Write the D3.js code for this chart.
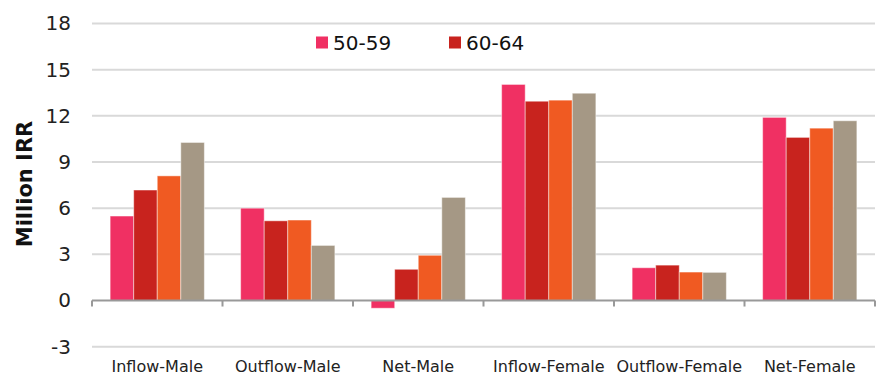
<!DOCTYPE html>
<html>
<head>
<meta charset="utf-8">
<script src="https://cdn.jsdelivr.net/npm/d3@7"></script>
<style>
  html, body { margin: 0; padding: 0; background: #fff; }
  svg { display: block; font-family: "DejaVu Sans", Verdana, sans-serif; }
</style>
</head>
<body>
<svg id="chart" width="887" height="376"></svg>
<script>
const categories = ["Inflow-Male", "Outflow-Male", "Net-Male", "Inflow-Female", "Outflow-Female", "Net-Female"];
const seriesNames = ["50-59", "60-64", "65-69", "70+"];
const values5059 = [5.49, 6.0, -0.5, 14.04, 2.13, 11.9];
const values6064 = [7.18, 5.18, 2.03, 12.95, 2.3, 10.6];
const values6569 = [8.1, 5.23, 2.94, 13.02, 1.85, 11.2];
const values70 = [10.27, 3.58, 6.7, 13.47, 1.83, 11.68];
const yTicks = [-3, 0, 3, 6, 9, 12, 15, 18];
const legendNames = ["50-59", "60-64"];
const colors = ["#f03063", "#c8231e", "#f05a22", "#a59885"];

const seriesValues = [values5059, values6064, values6569, values70];

const svg = d3.select("#chart");
const margin = { left: 92, right: 12, top: 23.5, bottom: 29.3 };
const W = 887, H = 376;

const y = d3.scaleLinear().domain([-3, 18]).range([H - margin.bottom, margin.top]);
const x0 = d3.scaleBand().domain(categories).range([margin.left, W - margin.right])
  .paddingInner(0.278).paddingOuter(0.139);
const x1 = d3.scaleBand().domain(seriesNames).range([0, x0.bandwidth()]);

// gridlines
svg.append("g").selectAll("line").data(yTicks.filter(d => d !== 0)).join("line")
  .attr("x1", margin.left).attr("x2", W - margin.right)
  .attr("y1", d => y(d)).attr("y2", d => y(d))
  .attr("stroke", "#d9d9d9").attr("stroke-width", 2);

// y axis labels
const yAxis = d3.axisLeft(y).tickValues(yTicks).tickSize(0).tickPadding(21).tickFormat(d => String(d));
const ya = svg.append("g").attr("transform", `translate(${margin.left},0)`).call(yAxis);
ya.select(".domain").remove();
ya.selectAll("text").attr("font-size", 20).attr("fill", "#222").attr("font-family", "DejaVu Sans");

// bars
const groups = svg.append("g").selectAll("g").data(categories).join("g")
  .attr("transform", d => `translate(${x0(d)},0)`);
groups.selectAll("rect").data((c, i) => seriesNames.map((s, j) => ({ s, j, v: seriesValues[j][i] })))
  .join("rect")
  .attr("x", d => x1(d.s))
  .attr("width", x1.bandwidth())
  .attr("y", d => Math.min(y(d.v), y(0)))
  .attr("height", d => Math.abs(y(d.v) - y(0)))
  .attr("fill", d => colors[d.j])
  .attr("stroke", "rgba(255,255,255,0.45)")
  .attr("stroke-width", 1);

// zero axis with category ticks
const xAxis = d3.axisBottom(x0).tickSize(0).tickFormat(() => "");
const xa = svg.append("g").attr("transform", `translate(0,${y(0)})`).call(xAxis);
xa.select(".domain").attr("stroke", "#999").attr("stroke-width", 2)
  .attr("d", `M${margin.left},0H${W - margin.right}`);
const step = x0.step();
const bounds = d3.range(categories.length + 1).map(i => margin.left + i * step);
xa.selectAll("line.sep").data(bounds).join("line").attr("class", "sep")
  .attr("x1", d => d).attr("x2", d => d).attr("y1", 0).attr("y2", 6)
  .attr("stroke", "#999").attr("stroke-width", 2);

// category labels
svg.append("g").selectAll("text").data(categories).join("text")
  .attr("x", d => x0(d) + x0.bandwidth() / 2)
  .attr("y", 372)
  .attr("text-anchor", "middle")
  .attr("font-size", 16)
  .attr("fill", "#222")
  .text(d => d);

// y title
svg.append("text")
  .attr("transform", "translate(32,184) rotate(-90)")
  .attr("text-anchor", "middle")
  .attr("font-size", 21)
  .attr("font-weight", "bold")
  .attr("fill", "#111")
  .text("Million IRR");

// legend
const legendX = [316, 449];
const lg = svg.append("g").selectAll("g").data(legendNames).join("g")
  .attr("transform", (d, i) => `translate(${legendX[i]},0)`);
lg.append("rect").attr("x", 0).attr("y", 36.5).attr("width", 12).attr("height", 12)
  .attr("fill", (d, i) => colors[i]);
lg.append("text").attr("x", 17).attr("y", 50).attr("font-size", 20).attr("fill", "#111").text(d => d);
</script>
</body>
</html>
